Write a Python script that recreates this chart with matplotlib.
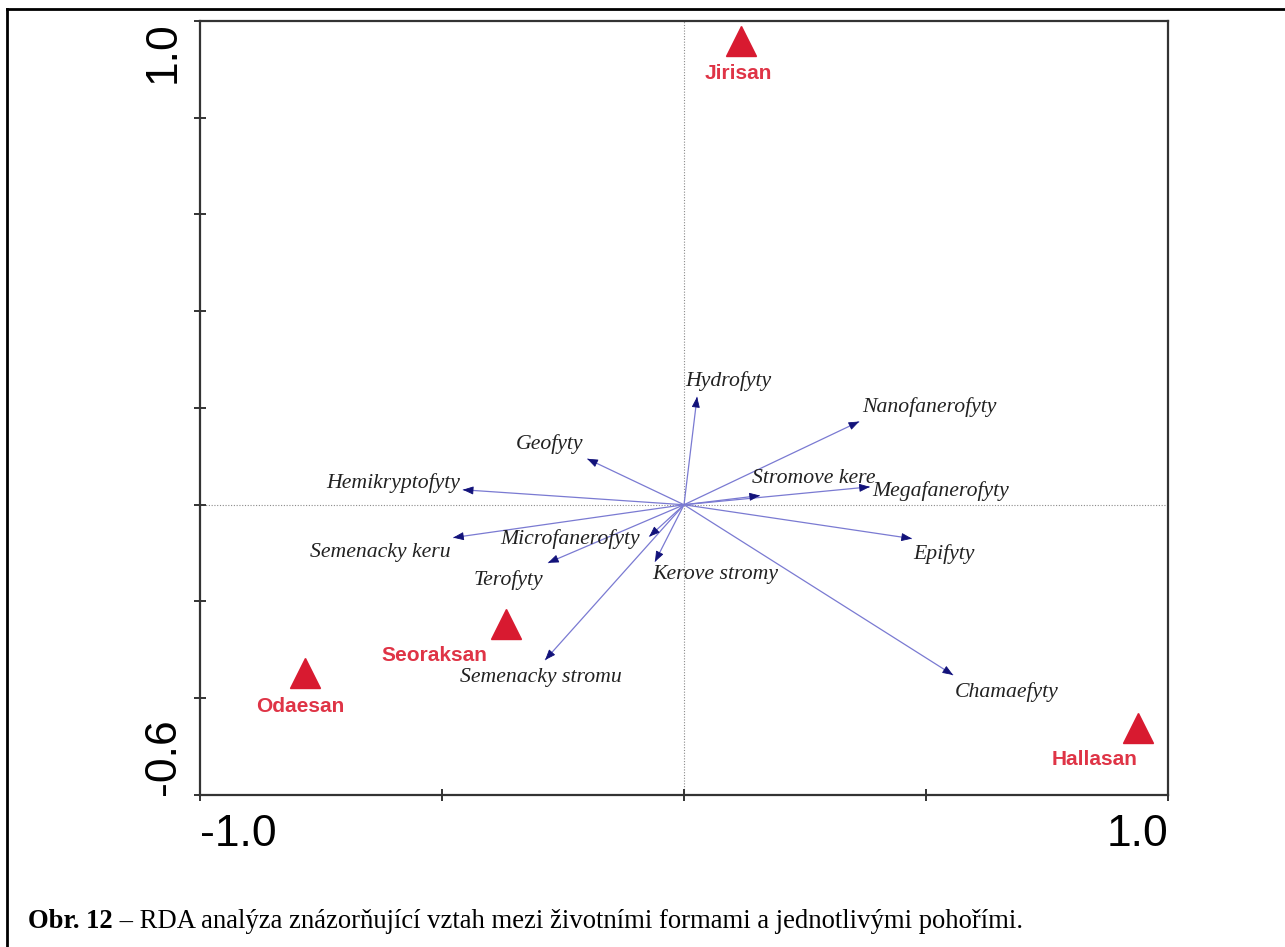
import matplotlib
matplotlib.use("Agg")
import matplotlib.pyplot as plt
import numpy as np
from matplotlib.lines import Line2D

# ---- data ----
forms = ["Hydrofyty", "Nanofanerofyty", "Stromove kere", "Megafanerofyty", "Epifyty",
         "Chamaefyty", "Kerove stromy", "Microfanerofyty", "Terofyty", "Semenacky keru",
         "Hemikryptofyty", "Geofyty", "Semenacky stromu"]
form_x = [0.027, 0.362, 0.157, 0.384, 0.471, 0.556, -0.060, -0.072, -0.281, -0.477, -0.457, -0.200, -0.287]
form_y = [0.223, 0.172, 0.019, 0.037, -0.070, -0.352, -0.118, -0.066, -0.120, -0.068, 0.031, 0.095, -0.321]

sites = ["Jirisan", "Odaesan", "Seoraksan", "Hallasan"]
site_x = [0.118, -0.783, -0.368, 0.938]
site_y = [0.958, -0.347, -0.246, -0.462]

xticks = [-1.0, -0.5, 0.0, 0.5, 1.0]
xtick_labels = ["-1.0", "", "", "", "1.0"]
yticks = [-0.6, -0.4, -0.2, 0.0, 0.2, 0.4, 0.6, 0.8, 1.0]
ytick_labels = ["-0.6", "", "", "", "", "", "", "", "1.0"]

caption_bold = "Obr. 12"
caption_rest = " \u2013 RDA analýza znázorňující vztah mezi životními formami a jednotlivými pohořími."

# ---- label placement (pixel offsets, styling) ----
form_label_style = {
    "Hydrofyty": (-12, 16, "left"),
    "Nanofanerofyty": (3, 14, "left"),
    "Stromove kere": (-8, 17, "left"),
    "Megafanerofyty": (2, -4, "left"),
    "Epifyty": (1, -15, "left"),
    "Chamaefyty": (2, -17, "left"),
    "Kerove stromy": (-3, -13, "left"),
    "Microfanerofyty": (-9, -2, "right"),
    "Terofyty": (-5, -17, "right"),
    "Semenacky keru": (-3, -15, "right"),
    "Hemikryptofyty": (-3, 7, "right"),
    "Geofyty": (-4, 15, "right"),
    "Semenacky stromu": (-4, -17, "center"),
}
site_label_off = {
    "Jirisan": (-3, -32),
    "Odaesan": (-5, -34),
    "Seoraksan": (-72, -32),
    "Hallasan": (-43, -31),
}

W, H, DPI = 1285, 947, 100
fig = plt.figure(figsize=(W / DPI, H / DPI), dpi=DPI)
fig.patch.set_facecolor("white")

ax = fig.add_axes([200 / W, (H - 795) / H, 968 / W, 774 / H])
ax.set_xlim(-1.0, 1.0)
ax.set_ylim(-0.6, 1.0)

PX2PT = 72.0 / DPI

# crosshair
ax.axhline(0, color="#8a8a8a", lw=0.8, ls=(0, (1, 1.5)), zorder=1)
ax.axvline(0, color="#8a8a8a", lw=0.8, ls=(0, (1, 1.5)), zorder=1)

line_col = "#7a7ad2"
head_col = "#12127a"
text_col = "#222222"
for name, x, y in zip(forms, form_x, form_y):
    ax.plot([0, x], [0, y], color=line_col, lw=0.9, zorder=2, solid_capstyle="butt")
    d = np.hypot(x, y)
    ux, uy = x / d, y / d
    ax.annotate("", xy=(x, y), xytext=(x - 0.019 * ux, y - 0.019 * uy),
                arrowprops=dict(arrowstyle="-|>,head_length=0.65,head_width=0.25",
                                color=head_col, lw=0.6, shrinkA=0, shrinkB=0,
                                mutation_scale=10),
                zorder=3)
    dx, dy, ha = form_label_style[name]
    ax.annotate(name, xy=(x, y), xytext=(dx * PX2PT, dy * PX2PT),
                textcoords="offset points", ha=ha, va="center",
                fontsize=15.7, fontstyle="italic", family="Liberation Serif",
                color=text_col, zorder=4)

red = "#d81a30"
ax.plot(site_x, site_y, ls="none", marker="^", ms=21, color=red, mec=red, zorder=5)
for name, x, y in zip(sites, site_x, site_y):
    dx, dy = site_label_off[name]
    ax.annotate(name, xy=(x, y), xytext=(dx * PX2PT, dy * PX2PT),
                textcoords="offset points", ha="center", va="center",
                fontsize=15, fontweight="bold", family="Liberation Sans",
                color="#df3446", zorder=5)

# axes styling
for s in ax.spines.values():
    s.set_linewidth(1.6)
    s.set_color("#333333")

ax.set_xticks(xticks, labels=xtick_labels)
ax.set_yticks(yticks, labels=ytick_labels)
ax.tick_params(axis="both", direction="inout", length=9, width=1.4, color="#333333",
               labelsize=32)
ax.tick_params(axis="x", pad=9)
ax.tick_params(axis="y", labelrotation=90, pad=7)
for lab in ax.get_xticklabels():
    lab.set_family("Liberation Sans")
for lab in ax.get_yticklabels():
    lab.set_family("Liberation Sans")
xl = ax.get_xticklabels()
xl[0].set_ha("left")
xl[-1].set_ha("right")
yl = ax.get_yticklabels()
yl[0].set_va("bottom")
yl[-1].set_va("top")

# outer frame (top and left)
fig.add_artist(Line2D([7 / W, 1.0], [1 - 9 / H, 1 - 9 / H], transform=fig.transFigure,
                      color="black", lw=2.0))
fig.add_artist(Line2D([7 / W, 7 / W], [0.0, 1 - 9 / H], transform=fig.transFigure,
                      color="black", lw=2.0))

# caption
t1 = fig.text(28 / W, 1 - 928 / H, caption_bold, fontsize=19.2, fontweight="bold",
              family="Liberation Serif", ha="left", va="baseline")
fig.canvas.draw()
bb = t1.get_window_extent()
fig.text(bb.x1 / W, 1 - 928 / H, caption_rest, fontsize=19.2,
         family="Liberation Serif", ha="left", va="baseline")

fig.savefig("out.png", dpi=DPI)
